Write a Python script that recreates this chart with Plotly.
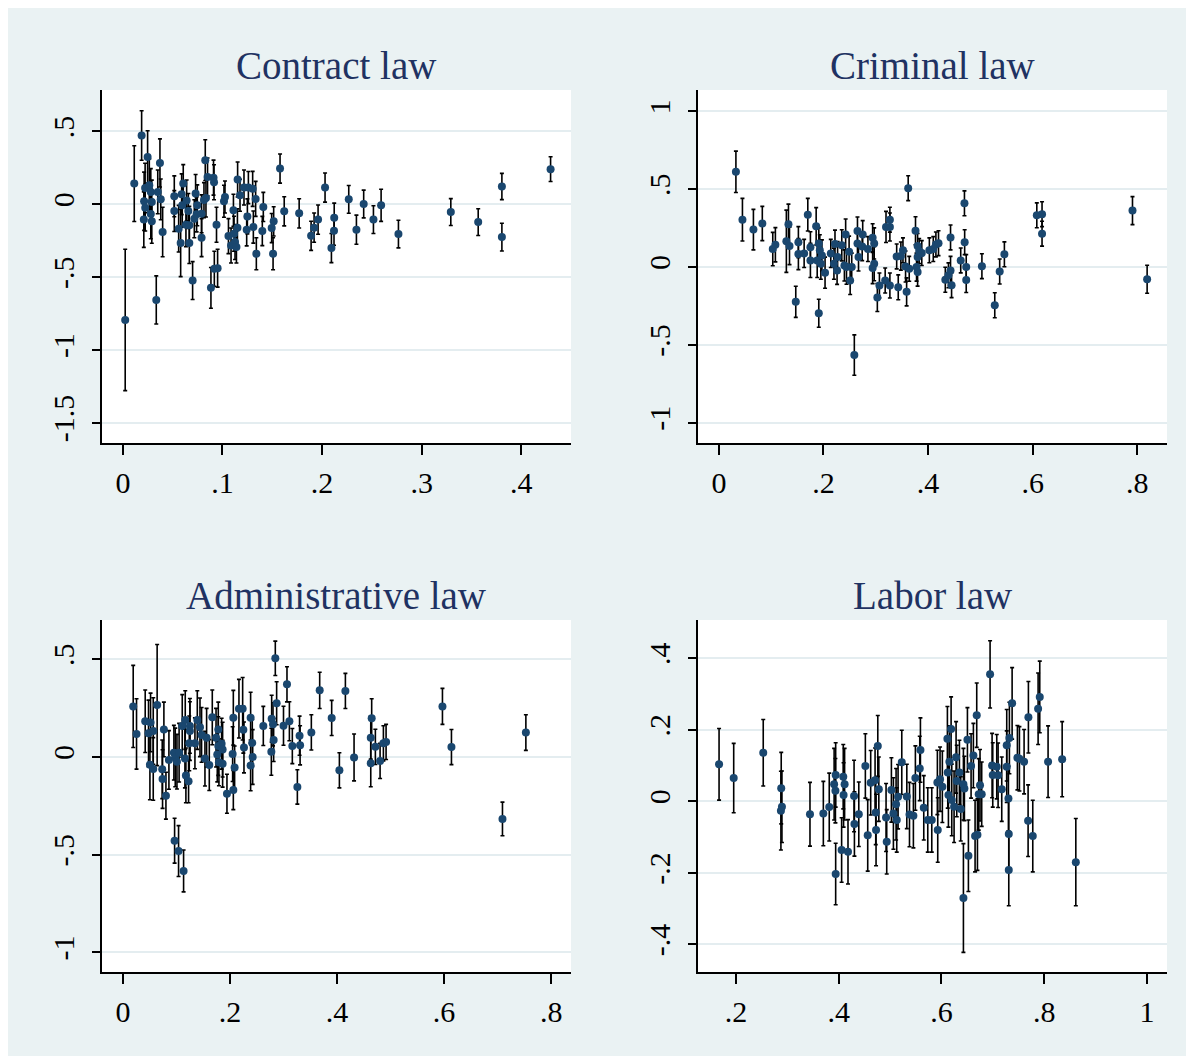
import plotly.graph_objects as go

# ---------------- data ----------------
contract_x = [0.0023, 0.0114, 0.0188, 0.0248, 0.0213, 0.0223, 0.0210, 0.0224, 0.0265, 0.0280,
              0.0290, 0.0280, 0.0290, 0.0372, 0.0350, 0.0380, 0.0399, 0.0335, 0.0516, 0.0516,
              0.0560, 0.0580, 0.0590, 0.0606, 0.0596, 0.0640, 0.0633, 0.0667, 0.0657, 0.0667,
              0.0700, 0.0717, 0.0730, 0.0747, 0.0740, 0.0790, 0.0790, 0.0814, 0.0827, 0.0834,
              0.0850, 0.0910, 0.0915, 0.0940, 0.0884, 0.0918, 0.0951, 0.1015, 0.1025, 0.1060,
              0.1086, 0.1110, 0.1116, 0.1126, 0.1140, 0.1152, 0.1176, 0.1150, 0.1216, 0.1250,
              0.1260, 0.1303, 0.1243, 0.1310, 0.1333, 0.1340, 0.1400, 0.1410, 0.1494, 0.1514,
              0.1508, 0.1578, 0.1620, 0.1770, 0.1890, 0.1920, 0.1960, 0.2030, 0.2094, 0.2120,
              0.2122, 0.2268, 0.2345, 0.2418, 0.2516, 0.2593, 0.2767, 0.3293, 0.3568, 0.3806,
              0.3806, 0.4295]
contract_y = [-0.793, 0.142, 0.472, 0.325, 0.021, 0.112, -0.105, -0.023, 0.131, 0.085,
              0.016, -0.066, -0.117, 0.284, 0.085, 0.034, -0.190, -0.656, 0.055, -0.046,
              -0.167, -0.266, 0.069, 0.142, -0.007, 0.027, -0.140, -0.144, -0.046, -0.266,
              -0.523, -0.099, 0.074, -0.007, -0.069, -0.229, -0.065, 0.029, 0.303, 0.043,
              0.188, 0.183, 0.151, -0.140, -0.573, -0.442, -0.438, 0.021, 0.050, -0.218,
              -0.282, -0.041, -0.202, -0.259, -0.293, 0.170, 0.062, -0.161, 0.115, -0.083,
              0.115, 0.106, -0.175, -0.156, 0.037, -0.339, -0.183, -0.018, -0.163, -0.117,
              -0.339, 0.245, -0.048, -0.062, -0.216, -0.160, -0.105, 0.115, -0.300, -0.181,
              -0.092, 0.034, -0.174, 0.002, -0.105, -0.007, -0.204, -0.053, -0.122, 0.122,
              -0.225, 0.241]
contract_se = [0.485, 0.26, 0.17, 0.18, 0.20, 0.17, 0.19, 0.16, 0.18, 0.16,
               0.15, 0.17, 0.15, 0.165, 0.15, 0.14, 0.17, 0.165, 0.14, 0.14,
               0.16, 0.23, 0.14, 0.13, 0.15, 0.14, 0.15, 0.13, 0.12, 0.14,
               0.13, 0.13, 0.13, 0.14, 0.12, 0.13, 0.13, 0.12, 0.14, 0.13,
               0.13, 0.12, 0.12, 0.12, 0.14, 0.12, 0.13, 0.11, 0.11, 0.12,
               0.12, 0.11, 0.12, 0.12, 0.11, 0.12, 0.11, 0.13, 0.12, 0.12,
               0.11, 0.12, 0.11, 0.11, 0.12, 0.11, 0.10, 0.10, 0.10, 0.10,
               0.11, 0.10, 0.10, 0.10, 0.10, 0.10, 0.10, 0.10, 0.10, 0.10,
               0.10, 0.095, 0.10, 0.095, 0.095, 0.11, 0.095, 0.092, 0.092, 0.09,
               0.095, 0.085]

criminal_x = [0.0325, 0.045, 0.066, 0.083, 0.103, 0.108, 0.129, 0.133, 0.135, 0.147,
              0.152, 0.152, 0.163, 0.170, 0.175, 0.175, 0.186, 0.191, 0.188, 0.191,
              0.193, 0.197, 0.195, 0.203, 0.214, 0.222, 0.220, 0.227, 0.226, 0.235,
              0.240, 0.2424, 0.244, 0.249, 0.251, 0.254, 0.259, 0.265, 0.265, 0.267,
              0.275, 0.274, 0.285, 0.294, 0.297, 0.297, 0.294, 0.303, 0.307, 0.318,
              0.3196, 0.327, 0.327, 0.327, 0.340, 0.343, 0.352, 0.348, 0.357, 0.359,
              0.362, 0.364, 0.376, 0.380, 0.380, 0.380, 0.378, 0.383, 0.388, 0.4025,
              0.410, 0.415, 0.420, 0.433, 0.439, 0.443, 0.445, 0.443, 0.4625, 0.4696,
              0.470, 0.473, 0.473, 0.503, 0.5276, 0.537, 0.546, 0.608, 0.618, 0.618,
              0.791, 0.819]
criminal_y = [0.612, 0.305, 0.241, 0.280, 0.116, 0.144, 0.166, 0.275, 0.136, -0.223,
              0.160, 0.084, 0.088, 0.337, 0.127, 0.043, 0.262, -0.296, 0.043, 0.152,
              0.108, 0.075, 0.022, -0.036, 0.088, 0.148, 0.022, 0.065, -0.021, 0.140,
              0.011, 0.209, 0.000, 0.099, -0.086, 0.000, -0.565, 0.232, 0.152, 0.065,
              0.209, 0.132, 0.116, 0.189, 0.152, 0.022, -0.006, -0.195, -0.118, -0.086,
              0.258, 0.305, 0.258, -0.118, 0.069, -0.130, 0.108, 0.071, 0.004, -0.159,
              0.507, -0.011, 0.234, 0.136, 0.065, -0.032, 0.000, 0.103, 0.090, 0.108,
              0.116, 0.146, 0.154, -0.081, -0.053, -0.021, -0.116, 0.191, 0.043, 0.410,
              0.160, 0.000, -0.083, 0.006, -0.245, -0.028, 0.082, 0.333, 0.340, 0.215,
              0.363, -0.078]
criminal_se = [0.133, 0.137, 0.13, 0.11, 0.107, 0.11, 0.20, 0.13, 0.12, 0.10,
               0.10, 0.10, 0.09, 0.105, 0.10, 0.11, 0.12, 0.09, 0.11, 0.10,
               0.10, 0.10, 0.10, 0.10, 0.09, 0.09, 0.10, 0.10, 0.09, 0.10,
               0.10, 0.10, 0.11, 0.10, 0.09, 0.09, 0.13, 0.09, 0.09, 0.09,
               0.09, 0.09, 0.08, 0.09, 0.10, 0.11, 0.10, 0.09, 0.08, 0.08,
               0.10, 0.08, 0.09, 0.08, 0.08, 0.08, 0.08, 0.09, 0.10, 0.09,
               0.08, 0.08, 0.09, 0.08, 0.08, 0.09, 0.09, 0.08, 0.08, 0.08,
               0.08, 0.08, 0.08, 0.08, 0.08, 0.09, 0.08, 0.08, 0.08, 0.08,
               0.08, 0.08, 0.08, 0.08, 0.08, 0.08, 0.08, 0.08, 0.08, 0.08,
               0.09, 0.09]

admin_x = [0.0193, 0.0255, 0.0417, 0.0479, 0.0517, 0.0505, 0.0567, 0.0567, 0.0640, 0.0766,
           0.0735, 0.0741, 0.0804, 0.0860, 0.0953, 0.0978, 0.1010, 0.1050, 0.0966, 0.1040,
           0.1134, 0.1109, 0.1165, 0.1177, 0.1227, 0.1159, 0.1240, 0.1252, 0.1252, 0.1346,
           0.1390, 0.1440, 0.1470, 0.1533, 0.1564, 0.1614, 0.1670, 0.1740, 0.1782, 0.1782,
           0.1763, 0.1794, 0.1844, 0.1863, 0.1863, 0.1944, 0.2050, 0.2063, 0.2063, 0.2087,
           0.2168, 0.2237, 0.2250, 0.2262, 0.2386, 0.2417, 0.2424, 0.2386, 0.2623, 0.2779,
           0.2804, 0.2816, 0.2773, 0.2847, 0.2872, 0.3065, 0.3110, 0.3000, 0.3165, 0.3259,
           0.3300, 0.3310, 0.3520, 0.3676, 0.3900, 0.4044, 0.4156, 0.4318, 0.4630, 0.4647,
           0.4630, 0.4716, 0.4804, 0.4866, 0.4916, 0.5969, 0.6137, 0.7090, 0.7527]
admin_y = [0.259, 0.118, 0.183, 0.121, 0.177, -0.039, -0.061, 0.133, 0.266, 0.141,
           -0.063, -0.113, -0.198, -0.015, 0.022, -0.002, -0.024, 0.022, -0.428, -0.481,
           -0.583, 0.159, 0.189, -0.094, -0.124, -0.008, 0.070, 0.159, 0.133, 0.070,
           0.189, 0.152, 0.113, -0.008, 0.099, -0.041, 0.203, 0.099, 0.141, 0.056,
           0.013, -0.027, 0.068, 0.038, -0.034, -0.188, 0.015, 0.201, -0.169, -0.054,
           0.247, 0.247, 0.140, 0.049, 0.201, 0.072, 0.000, -0.043, 0.159, 0.196,
           0.167, 0.087, 0.027, 0.505, 0.275, 0.372, 0.183, 0.160, 0.056, -0.153,
           0.109, 0.060, 0.126, 0.341, 0.200, -0.068, 0.338, -0.002, -0.032, 0.198,
           0.099, 0.052, -0.020, 0.070, 0.077, 0.259, 0.051, -0.317, 0.125]
admin_se = [0.21, 0.18, 0.16, 0.17, 0.15, 0.18, 0.16, 0.17, 0.31, 0.14,
            0.15, 0.15, 0.12, 0.15, 0.14, 0.15, 0.14, 0.15, 0.115, 0.13,
            0.107, 0.16, 0.15, 0.14, 0.11, 0.15, 0.14, 0.14, 0.15, 0.13,
            0.15, 0.15, 0.14, 0.14, 0.15, 0.13, 0.14, 0.15, 0.14, 0.15,
            0.14, 0.12, 0.13, 0.14, 0.12, 0.10, 0.14, 0.14, 0.10, 0.11,
            0.15, 0.16, 0.12, 0.13, 0.13, 0.12, 0.14, 0.13, 0.10, 0.12,
            0.11, 0.11, 0.12, 0.088, 0.11, 0.09, 0.10, 0.10, 0.09, 0.088,
            0.10, 0.10, 0.09, 0.093, 0.09, 0.09, 0.09, 0.12, 0.12, 0.10,
            0.11, 0.09, 0.09, 0.09, 0.09, 0.092, 0.09, 0.086, 0.091]

labor_x = [0.167, 0.1955, 0.253, 0.288, 0.2894, 0.2874, 0.344, 0.370, 0.3815, 0.394,
           0.391, 0.3935, 0.394, 0.4056, 0.4088, 0.4114, 0.4094, 0.418, 0.4298, 0.4305,
           0.439, 0.4518, 0.4564, 0.4622, 0.4707, 0.472, 0.4726, 0.476, 0.478, 0.4921,
           0.4934, 0.5025, 0.5064, 0.5129, 0.5116, 0.5155, 0.5227, 0.5325, 0.5377, 0.5453,
           0.5492, 0.5577, 0.559, 0.5655, 0.5733, 0.5811, 0.5927, 0.592, 0.5972, 0.6017,
           0.6115, 0.6122, 0.6135, 0.6154, 0.6187, 0.620, 0.6245, 0.6284, 0.6297, 0.6349,
           0.6375, 0.6427, 0.6427, 0.6446, 0.6505, 0.6524, 0.6576, 0.6621, 0.6654, 0.670,
           0.6686, 0.6725, 0.675, 0.6783, 0.6946, 0.6985, 0.6998, 0.7076, 0.7102, 0.7173,
           0.727, 0.727, 0.7303, 0.731, 0.731, 0.7322, 0.7375, 0.7478, 0.7517, 0.7608,
           0.7692, 0.7686, 0.7777, 0.7881, 0.7913, 0.8075, 0.8349, 0.8615]
labor_y = [0.1035, 0.065, 0.136, 0.037, -0.015, -0.026, -0.036, -0.034, -0.016, 0.074,
           0.048, 0.030, -0.203, -0.136, 0.069, 0.048, 0.018, -0.141, 0.015, -0.063,
           -0.036, 0.099, -0.095, 0.052, 0.059, -0.031, -0.080, 0.155, 0.034, -0.045,
           -0.113, 0.032, -0.034, -0.052, -0.008, 0.013, 0.109, 0.0137, -0.037, -0.040,
           0.065, 0.092, 0.1435, -0.018, -0.052, -0.052, -0.080, 0.053, 0.062, 0.041,
           0.175, 0.081, 0.018, 0.111, 0.202, 0.004, -0.015, 0.123, 0.057, 0.081,
           -0.021, -0.270, 0.048, 0.036, 0.172, -0.152, 0.099, 0.128, -0.097, -0.093,
           0.241, 0.0196, 0.045, 0.020, 0.355, 0.100, 0.074, 0.097, 0.073, 0.034,
           0.157, 0.097, 0.008, -0.091, -0.192, 0.177, 0.274, 0.122, 0.119, 0.111,
           0.235, -0.054, -0.097, 0.259, 0.292, 0.111, 0.118, -0.170]
labor_se = [0.10, 0.097, 0.093, 0.10, 0.10, 0.11, 0.089, 0.09, 0.095, 0.09,
            0.10, 0.09, 0.086, 0.09, 0.09, 0.10, 0.09, 0.09, 0.10, 0.09,
            0.09, 0.09, 0.10, 0.09, 0.09, 0.09, 0.10, 0.085, 0.09, 0.095,
            0.09, 0.09, 0.10, 0.09, 0.10, 0.09, 0.09, 0.09, 0.09, 0.09,
            0.09, 0.09, 0.09, 0.09, 0.09, 0.09, 0.09, 0.09, 0.09, 0.10,
            0.09, 0.10, 0.09, 0.10, 0.09, 0.10, 0.10, 0.10, 0.10, 0.09,
            0.09, 0.152, 0.10, 0.09, 0.09, 0.10, 0.09, 0.09, 0.10, 0.10,
            0.09, 0.10, 0.10, 0.09, 0.094, 0.09, 0.09, 0.09, 0.09, 0.09,
            0.10, 0.10, 0.09, 0.10, 0.10, 0.10, 0.10, 0.09, 0.09, 0.09,
            0.10, 0.10, 0.10, 0.10, 0.10, 0.10, 0.105, 0.122]

titles = ["Contract law", "Criminal law", "Administrative law", "Labor law"]

x_ticks = [[0, 0.1, 0.2, 0.3, 0.4], [0, 0.2, 0.4, 0.6, 0.8],
           [0, 0.2, 0.4, 0.6, 0.8], [0.2, 0.4, 0.6, 0.8, 1.0]]
x_labels = [["0", ".1", ".2", ".3", ".4"], ["0", ".2", ".4", ".6", ".8"],
            ["0", ".2", ".4", ".6", ".8"], [".2", ".4", ".6", ".8", "1"]]
y_ticks = [[-1.5, -1, -0.5, 0, 0.5], [-1, -0.5, 0, 0.5, 1],
           [-1, -0.5, 0, 0.5], [-0.4, -0.2, 0, 0.2, 0.4]]
y_labels = [["-1.5", "-1", "-.5", "0", ".5"], ["-1", "-.5", "0", ".5", "1"],
            ["-1", "-.5", "0", ".5"], ["-.4", "-.2", "0", ".2", ".4"]]
x_ranges = [[-0.021, 0.450], [-0.040, 0.857], [-0.039, 0.837], [0.126, 1.039]]
y_ranges = [[-1.637, 0.784], [-1.130, 1.138], [-1.100, 0.701], [-0.477, 0.507]]

series = [(contract_x, contract_y, contract_se), (criminal_x, criminal_y, criminal_se),
          (admin_x, admin_y, admin_se), (labor_x, labor_y, labor_se)]

# ---------------- layout geometry (page pixels; page has an 8px body margin) ----------------
OFF = 8
W, H = 1182, 1048
BG = "#EAF2F3"
GRID = "#E4EDF0"
NAVY = "#1a476f"
TITLE_C = "#1f3262"
FONT = "Liberation Serif"

px_x = [(102, 571), (698, 1167), (102, 571), (698, 1167)]
px_y = [(90, 443), (90, 443), (620, 972), (620, 972)]

fig = go.Figure()
layout = dict(width=W, height=H, margin=dict(l=0, r=0, t=0, b=0),
              paper_bgcolor=BG, plot_bgcolor="white", showlegend=False,
              font=dict(family=FONT, color="black"))
annotations = []
for i in range(4):
    n = "" if i == 0 else str(i + 1)
    xs, ys, es = series[i]
    fig.add_trace(go.Scatter(
        x=xs, y=ys, mode="markers", xaxis="x" + n, yaxis="y" + n,
        marker=dict(color=NAVY, size=8, line=dict(width=0)),
        error_y=dict(type="data", array=es, symmetric=True, color="black",
                     thickness=1.6, width=2),
        hoverinfo="skip"))
    x0, x1 = [v - OFF for v in px_x[i]]
    ytop, ybot = [v - OFF for v in px_y[i]]
    layout["xaxis" + n] = dict(
        domain=[x0 / W, x1 / W], range=x_ranges[i], anchor="y" + n,
        tickmode="array", tickvals=x_ticks[i], ticktext=x_labels[i],
        showgrid=False, zeroline=False, showline=True, linecolor="black", linewidth=1.5,
        ticks="outside", ticklen=10, tickwidth=1.5, tickcolor="black",
        tickfont=dict(family=FONT, size=30, color="black"), ticklabelstandoff=2)
    layout["yaxis" + n] = dict(
        domain=[1 - ybot / H, 1 - ytop / H], range=y_ranges[i], anchor="x" + n,
        tickmode="array", tickvals=y_ticks[i], ticktext=y_labels[i],
        showgrid=True, gridcolor=GRID, gridwidth=2, zeroline=False,
        showline=True, linecolor="black", linewidth=1.5,
        ticks="outside", ticklen=8, tickwidth=1.5, tickcolor="black", tickangle=-90,
        tickfont=dict(family=FONT, size=30, color="black"), ticklabelstandoff=6)
    annotations.append(dict(
        text=titles[i], xref="paper", yref="paper",
        x=(x0 + x1) / 2 / W, y=1 - (ytop - 25) / H, xanchor="center", yanchor="middle",
        showarrow=False, font=dict(family=FONT, size=39, color=TITLE_C)))

layout["annotations"] = annotations
fig.update_layout(**layout)
fig.write_html("out.html")
